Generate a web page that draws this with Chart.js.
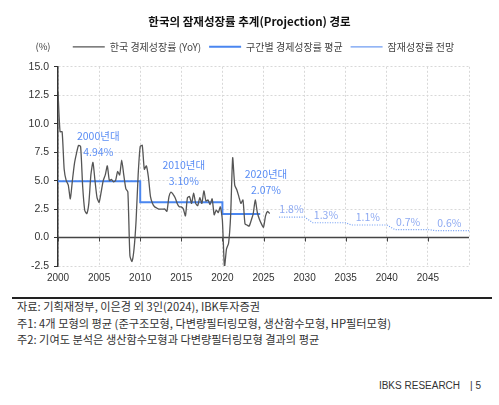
<!DOCTYPE html>
<html>
<head>
<meta charset="utf-8">
<script src="https://cdn.jsdelivr.net/npm/chart.js@4.4.1/dist/chart.umd.min.js"></script>
<style>
  body { margin: 0; background: #fff; font-family: "Noto Sans CJK KR", sans-serif; }
  #wrap { position: relative; width: 499px; height: 405px; }
  #c { position: absolute; left: 0; top: 0; }
  .rule { position: absolute; left: 12px; top: 297px; width: 480px; height: 1.5px; background: #222; }
  .notes { position: absolute; left: 17px; top: 298px; font-size: 11.2px; line-height: 16.5px; color: #333; white-space: nowrap; }
  .foot { position: absolute; right: 18px; top: 380px; font-family: "Liberation Sans", sans-serif; font-size: 10px; color: #333; }
  .foot span { margin-left: 10px; }
</style>
</head>
<body>
<div id="wrap">
  <canvas id="c" width="499" height="292"></canvas>
  <div class="rule"></div>
  <div class="notes">
    자료: 기획재정부, 이은경 외 3인(2024), IBK투자증권<br>
    주1: 4개 모형의 평균 (준구조모형, 다변량필터링모형, 생산함수모형, HP필터모형)<br>
    주2: 기여도 분석은 생산함수모형과 다변량필터링모형 결과의 평균
  </div>
  <div class="foot">IBKS RESEARCH<span>| 5</span></div>
</div>
<script>
// 한국 경제성장률 (YoY), 분기별 2000Q1 ~ 2025Q4
const gdpStartYear = 2000;
const gdpGrowth = [
  12.8, 9.3, 9.3, 6.0,   // 2000
  5.0, 4.6, 3.4, 5.0,    // 2001
  6.5, 7.4, 8.1, 8.0,    // 2002
  4.5, 2.4, 2.1, 3.0,    // 2003
  5.5, 6.6, 5.0, 3.5,    // 2004
  3.1, 4.0, 5.0, 5.5,    // 2005
  6.3, 5.0, 5.1, 4.9,    // 2006
  5.0, 5.8, 5.5, 6.8,    // 2007
  5.5, 4.3, 4.0, -1.6,   // 2008
  -2.1, -1.0, 1.5, 5.5,  // 2009
  8.0, 8.1, 6.0, 6.3,    // 2010
  5.3, 3.6, 3.0, 2.7,    // 2011
  2.6, 2.5, 2.5, 2.5,    // 2012
  2.5, 2.3, 3.6, 4.0,    // 2013
  3.8, 3.5, 3.0, 2.7,    // 2014
  2.7, 2.5, 1.9, 3.5,    // 2015
  3.6, 3.0, 3.9, 3.0,    // 2016
  2.8, 3.5, 3.0, 4.1,    // 2017
  3.2, 3.3, 2.9, 3.4,    // 2018
  2.0, 2.4, 2.2, 2.7,    // 2019
  1.5, -2.6, -1.0, -0.5, // 2020
  1.9, 7.0, 4.6, 4.2,    // 2021
  3.6, 3.0, 3.3, 1.2,    // 2022
  1.1, 1.0, 1.5, 2.1,    // 2023
  3.3, 2.2, 1.6, 1.2,    // 2024
  0.9, 1.9, 2.3, 2.1     // 2025
];

// 구간별 경제성장률 평균
const decadeNames = ['2000년대', '2010년대', '2020년대'];
const decadeStart = [2000, 2010, 2020];
const decadeAvg = [4.94, 3.10, 2.07];
const avgEndYear = 2024.6;

// 잠재성장률 전망
const projYears = [2026.9, 2030, 2031, 2035, 2035.7, 2040, 2041, 2045, 2046, 2050];
const projValues = [1.8, 1.8, 1.3, 1.3, 1.1, 1.1, 0.7, 0.7, 0.6, 0.6];
const projLabels = ['1.8%', '1.3%', '1.1%', '0.7%', '0.6%'];
const projLabelYears = [2028.4, 2032.6, 2037.7, 2042.6, 2047.6];
const projLabelValues = [1.8, 1.3, 1.1, 0.7, 0.6];

// 구간 라벨 위치 (data units)
const decadeLabelYears = [2004.9, 2015.3, 2025.3];
const decadeLabelValues = [8.95, 6.4, 5.55];

const yTicks = [-2.5, 0, 2.5, 5, 7.5, 10, 12.5, 15];

const gdpPoints = gdpGrowth.map((v, i) => ({ x: gdpStartYear + i / 4, y: v }));
const avgPoints = decadeStart.map((x, i) => ({ x: x, y: decadeAvg[i] }));
avgPoints.push({ x: avgEndYear, y: decadeAvg[decadeAvg.length - 1] });
const projPoints = projYears.map((x, i) => ({ x: x, y: projValues[i] }));

Chart.defaults.font.family = "'Noto Sans CJK KR', sans-serif";
Chart.defaults.color = '#333';

// 범례 아래 여백
const legendGap = {
  id: 'legendGap',
  beforeInit(chart) {
    const fit = chart.legend.fit;
    chart.legend.fit = function () {
      fit.bind(chart.legend)();
      this.height += 5;
    };
  }
};

const extras = {
  id: 'extras',
  beforeDatasetsDraw(chart) {
    const { ctx, chartArea, scales } = chart;
    const y0 = scales.y.getPixelForValue(0);
    ctx.save();
    ctx.strokeStyle = '#444';
    ctx.lineWidth = 1.5;
    ctx.beginPath();
    ctx.moveTo(chartArea.left, y0);
    ctx.lineTo(chartArea.right, y0);
    ctx.stroke();
    ctx.lineWidth = 1;
    scales.x.ticks.forEach(t => {
      if (t.value >= 2050) return;
      const x = Math.round(scales.x.getPixelForValue(t.value)) + 0.5;
      ctx.beginPath();
      ctx.moveTo(x, y0);
      ctx.lineTo(x, y0 + 4);
      ctx.stroke();
    });
    ctx.restore();
  },
  afterDatasetsDraw(chart) {
    const { ctx, scales, chartArea } = chart;
    ctx.save();
    ctx.textAlign = 'center';
    ctx.textBaseline = 'middle';
    ctx.font = "10.5px 'Noto Sans CJK KR', sans-serif";
    ctx.fillStyle = '#5b8ef5';
    decadeNames.forEach((name, i) => {
      const x = scales.x.getPixelForValue(decadeLabelYears[i]);
      const y = scales.y.getPixelForValue(decadeLabelValues[i]);
      ctx.fillText(name, x, y);
      ctx.fillText(decadeAvg[i].toFixed(2) + '%', x, y + 16);
    });
    ctx.fillStyle = '#8eaaf2';
    projLabels.forEach((txt, i) => {
      const x = scales.x.getPixelForValue(projLabelYears[i]);
      const y = scales.y.getPixelForValue(projLabelValues[i]);
      ctx.fillText(txt, x, y - 8);
    });
    ctx.fillStyle = '#444';
    ctx.font = "9.5px 'Noto Sans CJK KR', sans-serif";
    ctx.fillText('(%)', chartArea.left - 15, chartArea.top - 20);
    ctx.restore();
  }
};

new Chart(document.getElementById('c'), {
  type: 'line',
  data: {
    datasets: [
      {
        label: '한국 경제성장률 (YoY)',
        data: gdpPoints,
        borderColor: '#555',
        borderWidth: 1.3,
        pointRadius: 0,
        tension: 0.2
      },
      {
        label: '구간별 경제성장률 평균',
        data: avgPoints,
        borderColor: '#4a86f0',
        borderWidth: 2,
        pointRadius: 0,
        stepped: true
      },
      {
        label: '잠재성장률 전망',
        data: projPoints,
        borderColor: '#6f9cf2',
        borderWidth: 1.2,
        borderDash: [1, 1.5],
        pointRadius: 0
      }
    ]
  },
  options: {
    responsive: false,
    animation: false,
    devicePixelRatio: 1,
    layout: { padding: 0 },
    plugins: {
      title: {
        display: true,
        text: '한국의 잠재성장률 추계(Projection) 경로',
        color: '#111',
        font: { size: 11.5, weight: 'bold' },
        padding: { top: 15, bottom: 5 }
      },
      legend: {
        display: true,
        fullSize: false,
        labels: {
          usePointStyle: true,
          pointStyle: 'line',
          pointStyleWidth: 32,
          boxWidth: 32,
          boxHeight: 8,
          padding: 8,
          color: '#444',
          font: { size: 10 }
        }
      },
      tooltip: { enabled: false }
    },
    scales: {
      x: {
        type: 'linear',
        min: 2000,
        max: 2050,
        afterFit(s) { s.height = 26; },
        ticks: {
          stepSize: 5,
          padding: 6,
          color: '#333',
          font: { family: "'Liberation Sans', sans-serif", size: 10 },
          callback: v => (v >= 2050 ? '' : String(v))
        },
        grid: { color: '#d8d8d8', drawTicks: false },
        border: { display: false, dash: [2, 2] }
      },
      y: {
        min: -2.5,
        max: 15,
        afterFit(s) { s.width = 58; },
        afterBuildTicks(s) { s.ticks = yTicks.map(v => ({ value: v })); },
        ticks: {
          padding: 5,
          color: '#333',
          font: { family: "'Liberation Sans', sans-serif", size: 10.5 },
          callback: v => v.toFixed(1)
        },
        grid: { color: '#d8d8d8', tickColor: '#333', tickLength: 4, tickBorderDash: [] },
        border: { display: true, color: '#333', width: 1.5, dash: [2, 2] }
      },
      // 오른쪽 여백용 빈 축
      yRight: {
        position: 'right',
        min: 0,
        max: 1,
        afterFit(s) { s.width = 30; },
        ticks: { display: false },
        grid: { display: false, drawOnChartArea: false },
        border: { display: false }
      }
    }
  },
  plugins: [legendGap, extras]
});
</script>
</body>
</html>
